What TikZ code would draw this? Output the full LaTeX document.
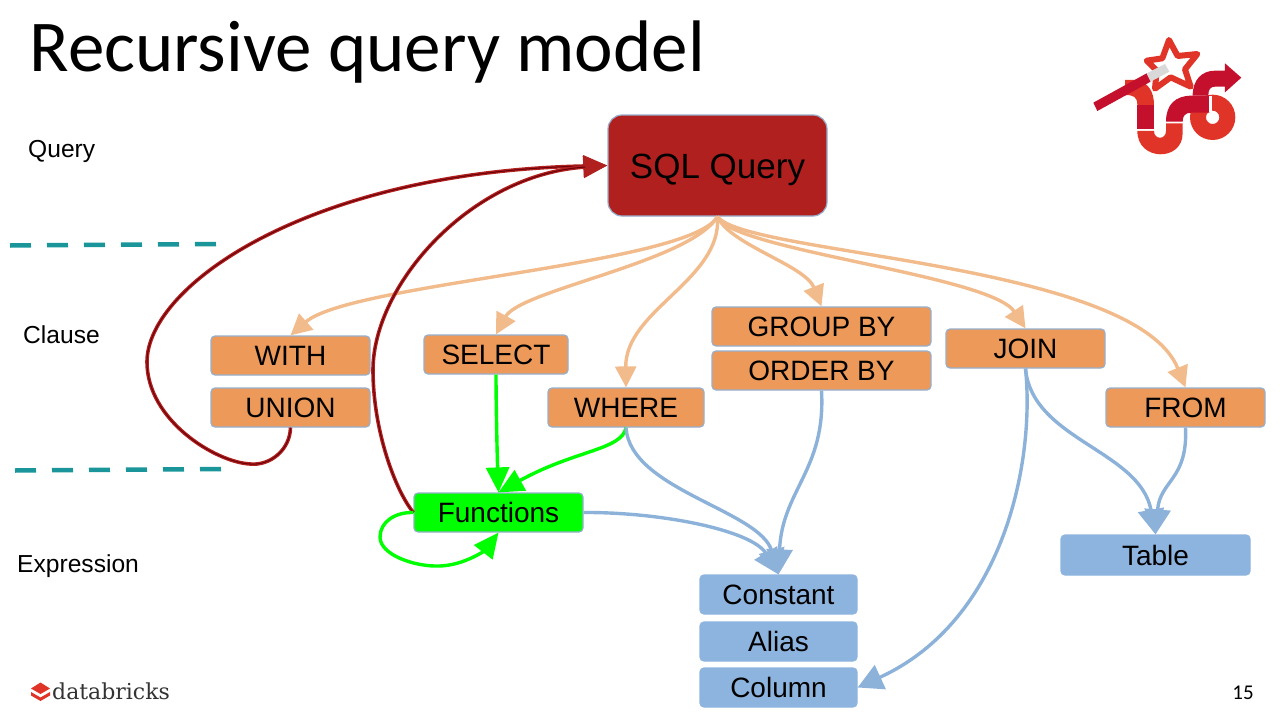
\documentclass[tikz,border=0pt]{standalone}
\usepackage{fontspec}
\setmainfont{Liberation Sans}
\newfontfamily\titlefont{Carlito}
\newfontfamily\logofont{DejaVu Serif}
\usetikzlibrary{arrows.meta}
\definecolor{sqlred}{RGB}{176,32,30}
\definecolor{clausefill}{RGB}{236,153,89}
\definecolor{exprblue}{RGB}{141,180,222}
\definecolor{boxedge}{RGB}{150,175,205}
\definecolor{peach}{RGB}{241,187,140}
\definecolor{linkblue}{RGB}{141,178,218}
\definecolor{funcgreen}{RGB}{0,255,0}
\definecolor{darkcore}{RGB}{105,0,8}
\definecolor{dashteal}{RGB}{26,150,155}
\definecolor{pipelight}{RGB}{224,52,40}
\definecolor{pipedark}{RGB}{196,16,44}
\tikzset{
  box/.style={draw=boxedge, line width=1.2pt, rounded corners=4pt, text=black, inner sep=0pt, text height=20pt, text depth=0pt, font=\fontsize{28}{28}\selectfont},
  clause/.style={box, fill=clausefill, minimum height=39pt},
  expr/.style={box, fill=exprblue, draw=exprblue, minimum height=39pt},
  peachlink/.style={draw=peach, line width=3.4pt, -{Triangle[length=21pt,width=21pt]}},
  bluelink/.style={draw=linkblue, line width=3.4pt, -{Triangle[length=25pt,width=26pt]}},
  greenlink/.style={draw=funcgreen, line width=3.4pt, -{Triangle[length=25pt,width=23pt]}},
  redlink/.style={draw=sqlred, line width=3.6pt, -{Triangle[length=24pt,width=21pt]},
    postaction={draw=darkcore, line width=1pt, -, shorten >=22pt}},
  sidelabel/.style={anchor=base west, inner sep=0pt, font=\fontsize{24.6}{25}\selectfont},
  cutline/.style={draw=dashteal, line width=4.5pt, dash pattern=on 21pt off 16pt}
}
\begin{document}
\begin{tikzpicture}[x=1pt,y=-1pt]
  \useasboundingbox (0,0) rectangle (1280,720);

  % Title and level names
  \node[anchor=base west, inner sep=0pt, font=\titlefont\fontsize{73}{73}\selectfont] (title) at (29.5,71) {Recursive query model};
  \node[sidelabel] (query) at (28,157) {Query};
  \node[sidelabel] (clauselabel) at (23,343.5) {Clause};
  \node[sidelabel] (expression) at (17,572) {Expression};
  \node[anchor=base, inner sep=0pt, font=\titlefont\fontsize{21}{21}\selectfont] (pagenum) at (1243,699) {15};

  % Dashed separators
  \coordinate (d1) at (10,245.5);
  \coordinate (d2) at (217,244);
  \coordinate (d3) at (15,470.5);
  \coordinate (d4) at (222,469);
  \draw[cutline] (d1) -- (d2);
  \draw[cutline] (d3) -- (d4);

  % Nodes
  \node[box, fill=sqlred, minimum width=219pt, minimum height=101pt, rounded corners=14pt, text height=25pt, font=\fontsize{35}{35}\selectfont] (sql) at (717.5,165.5) {SQL Query};
  \node[clause, minimum width=159pt] (with) at (290.5,355.5) {WITH};
  \node[clause, minimum width=159pt] (union) at (290.5,407.5) {UNION};
  \node[clause, minimum width=144pt] (select) at (496,354.5) {SELECT};
  \node[clause, minimum width=156pt] (where) at (626,407.5) {WHERE};
  \node[clause, minimum width=219pt] (groupby) at (821.5,326.5) {GROUP BY};
  \node[clause, minimum width=219pt] (orderby) at (821.5,370.5) {ORDER BY};
  \node[clause, minimum width=159pt] (join) at (1025.5,348.5) {JOIN};
  \node[clause, minimum width=159pt] (from) at (1185.5,407.5) {FROM};
  \node[box, fill=funcgreen, minimum width=169pt, minimum height=39pt] (functions) at (498.5,512.5) {Functions};
  \node[expr, minimum width=189pt, minimum height=40pt] (table) at (1155.5,555) {Table};
  \node[expr, minimum width=157pt] (constant) at (778.5,594.5) {Constant};
  \node[expr, minimum width=157pt] (alias) at (778.5,641.5) {Alias};
  \node[expr, minimum width=157pt] (column) at (778.5,687.5) {Column};

  % SQL Query to clauses
  \draw[peachlink] (sql.south) .. controls (690,265) and (350,283) .. (with.north);
  \draw[peachlink] (sql.south) .. controls (690,262) and (520,290) .. (select.north);
  \draw[peachlink] (sql.south) .. controls (722,280) and (625,310) .. (where.north);
  \draw[peachlink] (sql.south) .. controls (730,245) and (805,265) .. (groupby.north);
  \draw[peachlink] (sql.south) .. controls (730,250) and (990,275) .. (join.north);
  \draw[peachlink] (sql.south) .. controls (745,255) and (1135,262) .. (from.north);

  % Recursion back to the query
  \draw[redlink] (union.south) .. controls (290,450) and (270,466) .. (250,464)
     .. controls (215,462) and (147,420) .. (147,362)
     .. controls (147,285) and (310,172) .. (sql.west);
  \draw[redlink] (functions.west) .. controls (395,490) and (373,430) .. (373,370)
     .. controls (373,285) and (470,175) .. (sql.west);

  % Functions
  \draw[greenlink] (select.south) .. controls (496,400) and (497,450) .. (functions.north);
  \draw[greenlink] (where.south) .. controls (622,450) and (575,450) .. (functions.north);
  \draw[greenlink] (functions.west) .. controls (395,512) and (380,522) .. (380,537)
     .. controls (380,555) and (415,567) .. (440,566)
     .. controls (465,565) and (485,550) .. (functions.south);

  % Expressions
  \draw[bluelink] (where.south) .. controls (630,490) and (760,510) .. (constant.north);
  \draw[bluelink] (functions.east) .. controls (660,512) and (752,530) .. (constant.north);
  \draw[bluelink] (orderby.south) .. controls (826,470) and (782,490) .. (constant.north);
  \draw[bluelink] (join.south) .. controls (1032,440) and (1140,450) .. (table.north);
  \draw[bluelink] (from.south) .. controls (1188,480) and (1160,480) .. (table.north);
  \draw[bluelink] (join.south) .. controls (1035,460) and (1005,620) .. (column.east);

  % Spark logo
  \begin{scope}[shift={(1080,30)}, x=0.3333pt, y=-0.3333pt]
    \fill[pipelight] (135,150) -- (165,150) .. controls (205,155) and (222,185) .. (222,225) -- (172,225) .. controls (172,200) and (160,195) .. (135,195) -- cycle;
    \fill[pipedark] (172,225) rectangle (222,298);
    \fill[pipelight] (172,303) -- (222,303) .. controls (222,330) and (258,330) .. (258,303) -- (258,280) -- (308,280) -- (308,310) .. controls (308,395) and (172,395) .. (172,303) -- cycle;
    \fill[pipelight, even odd rule] (398,262) circle (68) (398,262) circle (20);
    \fill[pipedark] (258,275) .. controls (258,225) and (285,197) .. (335,197) -- (388,197) -- (388,248) -- (335,248) .. controls (315,248) and (308,258) .. (308,275) -- cycle;
    \fill[pipedark] (338,197) .. controls (338,150) and (365,122) .. (405,122) -- (435,122) -- (435,100) -- (484,143) -- (435,187) -- (435,170) -- (405,170) .. controls (390,170) and (385,180) .. (385,197) -- cycle;
    \fill[white] (388,197) rectangle (396,245);
    \draw[pipelight, fill=white, line width=6pt, line join=round] (267,30) -- (293,78) -- (352,72) -- (315,118) -- (332,170) -- (272,142) -- (225,176) -- (230,122) -- (200,92) -- (247,85) -- cycle;
    \fill[pipedark] (40,218) -- (200,130) -- (212,155) -- (52,243) -- cycle;
    \fill[black!15] (200,130) -- (255,102) -- (268,125) -- (212,155) -- cycle;
  \end{scope}

  % Databricks logo
  \fill[pipelight] (31,688.5) -- (40.5,682.5) -- (50,688.5) -- (40.5,694) -- cycle;
  \fill[pipelight] (31,692) -- (40.5,697.5) -- (50,692) -- (50,695.5) -- (40.5,701) -- (31,695.5) -- cycle;
  \node[anchor=base west, inner sep=0pt, text=black!80, font=\logofont\fontsize{22}{22}\selectfont] (brand) at (52,699) {databricks};
\end{tikzpicture}
\end{document}
